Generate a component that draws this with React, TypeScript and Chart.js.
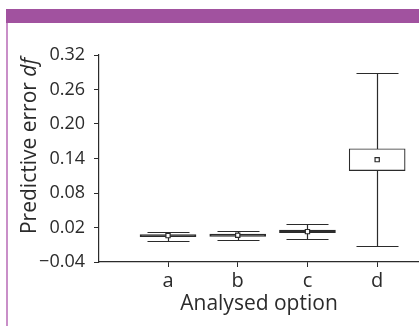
import React, { useEffect, useRef } from 'react';
import { Chart, registerables } from 'chart.js';

Chart.register(...registerables);

// ---- data ----
const categories = ['a', 'b', 'c', 'd'];
const positions = [1, 2, 3, 4];
const whiskerLow = [-0.003, -0.002, -0.0005, -0.012];
const q1 = [0.004, 0.0047, 0.0108, 0.119];
const q3 = [0.0078, 0.0085, 0.0155, 0.157];
const whiskerHigh = [0.0128, 0.0137, 0.0263, 0.288];
const means = [0.0059, 0.0066, 0.0128, 0.138];
const yTickValues = [-0.04, 0.02, 0.08, 0.14, 0.2, 0.26, 0.32];
const yTickLabels = ['\u22120.04', '0.02', '0.08', '0.14', '0.20', '0.26', '0.32'];
const boxFills = ['#2e2e2e', '#2e2e2e', '#2e2e2e', '#ffffff'];

const INK = '#2b2b2b';
const FONT = "'Open Sans', 'Noto Sans', sans-serif";

const decorPlugin = {
  id: 'decor',
  beforeDraw(chart: any) {
    const ctx = chart.ctx;
    ctx.save();
    ctx.fillStyle = '#ffffff';
    ctx.fillRect(0, 0, chart.width, chart.height);
    ctx.fillStyle = '#a1529f';
    ctx.fillRect(6, 9, chart.width - 6, 14);
    ctx.fillStyle = '#c98fc8';
    ctx.fillRect(6, 23, 2, chart.height - 23);
    ctx.restore();
  },
};

const whiskerPlugin = {
  id: 'whiskers',
  beforeDatasetsDraw(chart: any) {
    const { ctx } = chart;
    const x = chart.scales.x;
    const y = chart.scales.y;
    const capHalf = 21;
    ctx.save();
    ctx.strokeStyle = INK;
    ctx.lineWidth = 1.2;
    positions.forEach((p, i) => {
      const px = Math.round(x.getPixelForValue(p)) + 0.5;
      const lo = Math.round(y.getPixelForValue(whiskerLow[i])) + 0.5;
      const hi = Math.round(y.getPixelForValue(whiskerHigh[i])) + 0.5;
      ctx.beginPath();
      ctx.moveTo(px, lo);
      ctx.lineTo(px, hi);
      ctx.moveTo(px - capHalf, lo);
      ctx.lineTo(px + capHalf, lo);
      ctx.moveTo(px - capHalf, hi);
      ctx.lineTo(px + capHalf, hi);
      ctx.stroke();
    });
    ctx.restore();
  },
};

const yTitlePlugin = {
  id: 'yTitle',
  afterDraw(chart: any) {
    const { ctx } = chart;
    const size = 21;
    const normal = 'Predictive error ';
    const ital = 'df';
    ctx.save();
    ctx.font = `${size}px ${FONT}`;
    const w1 = ctx.measureText(normal).width;
    ctx.font = `italic ${size}px ${FONT}`;
    const w2 = ctx.measureText(ital).width;
    const total = w1 + w2;
    ctx.translate(36, 146);
    ctx.rotate(-Math.PI / 2);
    ctx.fillStyle = INK;
    ctx.textBaseline = 'alphabetic';
    ctx.textAlign = 'left';
    ctx.font = `${size}px ${FONT}`;
    ctx.fillText(normal, -total / 2, 0);
    ctx.font = `italic ${size}px ${FONT}`;
    ctx.fillText(ital, -total / 2 + w1, 0);
    ctx.restore();
  },
};

export default function App() {
  const ref = useRef<HTMLCanvasElement | null>(null);

  useEffect(() => {
    if (!ref.current) return;
    const chart = new Chart(ref.current, {
      type: 'bar',
      data: {
        datasets: [
          {
            type: 'bar',
            data: positions.map((p, i) => ({ x: p, y: [q1[i], q3[i]] })) as any,
            backgroundColor: boxFills,
            borderColor: INK,
            borderWidth: 1.2,
            borderSkipped: false,
            barThickness: 56,
            order: 2,
          } as any,
          {
            type: 'scatter',
            data: positions.map((p, i) => ({ x: p, y: means[i] })),
            pointStyle: 'rect',
            pointRadius: 3,
            backgroundColor: '#ffffff',
            borderColor: INK,
            borderWidth: 1.2,
            order: 1,
          } as any,
        ],
      },
      options: {
        animation: false,
        responsive: true,
        maintainAspectRatio: false,
        layout: { autoPadding: false, padding: { left: 0, right: 0, top: 55, bottom: 0 } },
        plugins: { legend: { display: false }, tooltip: { enabled: false } },
        scales: {
          x: {
            type: 'linear',
            min: 0.01,
            max: 4.6,
            offset: false,
            grid: {
              display: true,
              offset: false,
              drawOnChartArea: false,
              drawTicks: true,
              tickLength: 5,
              color: INK,
            },
            border: { display: true, color: INK, width: 1.2 },
            afterBuildTicks: (scale: any) => {
              scale.ticks = positions.map((v) => ({ value: v }));
            },
            afterFit: (scale: any) => {
              scale.height = 64;
            },
            ticks: {
              color: INK,
              font: { family: FONT, size: 20 },
              padding: 2,
              callback: (v: any) => {
                const idx = positions.indexOf(Number(v));
                return idx >= 0 ? categories[idx] : '';
              },
            },
            title: {
              display: true,
              text: 'Analysed option',
              color: INK,
              font: { family: FONT, size: 21 },
              padding: { top: 0, bottom: 9 },
            },
          },
          y: {
            type: 'linear',
            min: -0.04,
            max: 0.32,
            grid: {
              display: true,
              drawOnChartArea: false,
              drawTicks: true,
              tickLength: 5,
              color: INK,
            },
            border: { display: true, color: INK, width: 1.2 },
            afterBuildTicks: (scale: any) => {
              scale.ticks = yTickValues.map((v) => ({ value: v }));
            },
            afterFit: (scale: any) => {
              scale.width = 99;
            },
            ticks: {
              color: INK,
              font: { family: FONT, size: 18 },
              padding: 9,
              callback: (v: any) => {
                const idx = yTickValues.findIndex((t) => Math.abs(t - Number(v)) < 1e-9);
                return idx >= 0 ? yTickLabels[idx] : '';
              },
            },
          },
        },
      },
      plugins: [decorPlugin, whiskerPlugin, yTitlePlugin],
    });
    return () => chart.destroy();
  }, []);

  return (
    <div style={{ position: 'absolute', left: 0, top: 0, width: 419, height: 326 }}>
      <canvas ref={ref} />
    </div>
  );
}
